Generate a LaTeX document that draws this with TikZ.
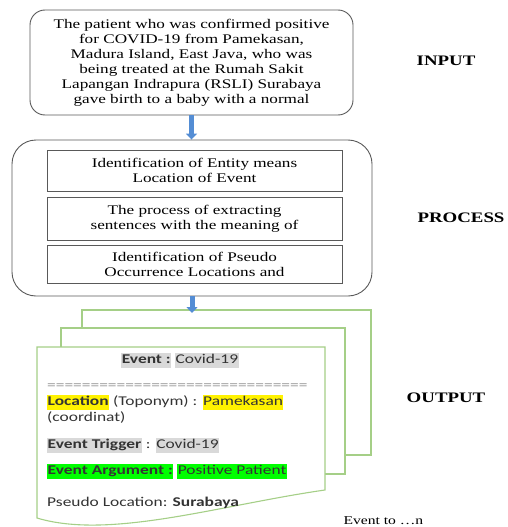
\documentclass[tikz,border=0pt]{standalone}
\usepackage{fontspec}
\setmainfont[FakeStretch=1.3]{Liberation Serif}
\newfontfamily\docfont[FakeStretch=1.3]{Carlito}
\usetikzlibrary{arrows.meta}

\definecolor{pagegreen}{RGB}{165,207,135}
\definecolor{flowblue}{RGB}{84,141,212}
\definecolor{hlgray}{RGB}{217,217,217}
\definecolor{hlgreen}{RGB}{0,255,0}
\newcommand{\hlbox}[2]{{\setlength{\fboxsep}{0.5pt}\colorbox{#1}{\rule[-3.5pt]{0pt}{14pt}#2}}}

\begin{document}
\begin{tikzpicture}[x=1pt,y=-1pt,
		box/.style={draw=black!65,line width=0.9pt,align=center,inner sep=2pt,
			font=\fontsize{13.2}{15}\selectfont},
		page/.style={draw=pagegreen,line width=1.1pt,fill=white},
		flow/.style={draw=flowblue,line width=5pt,-{Triangle[width=11pt,length=6pt]}},
		doctext/.style={inner sep=0pt,text=black!80,font=\docfont\fontsize{13.4}{15}\selectfont},
		stage/.style={font=\fontsize{14.5}{16}\selectfont\bfseries},
		note/.style={font=\fontsize{12}{14}\selectfont}]
	\useasboundingbox (0,0) rectangle (508,527);
	% input
	\node[box,rounded corners=15pt,minimum width=323pt,minimum height=105pt] (input) at (191.5,62.5)
		{The patient who was confirmed positive\\ for COVID-19 from Pamekasan,\\
		 Madura Island, East Java, who was\\ being treated at the Rumah Sakit\\
		 Lapangan Indrapura (RSLI) Surabaya\\ gave birth to a baby with a normal};
	% process
	\node[box,rounded corners=24pt,minimum width=360pt,minimum height=156pt] (process) at (192,218) {};
	\node[box,minimum width=295pt,minimum height=41pt] (ident) at (194.5,170.5)
		{Identification of Entity means\\ Location of Event};
	\node[box,minimum width=295pt,minimum height=43pt] (extract) at (194.5,218.5)
		{The process of extracting\\ sentences with the meaning of};
	\node[box,minimum width=295pt,minimum height=38pt] (pseudo) at (194.5,264)
		{Identification of Pseudo\\ Occurrence Locations and};
	\draw[flow] (input.south) -- (input.south |- process.north);
	% output pages
	\draw[page] (82,310) rectangle (371,455);
	\draw[page] (61,328) rectangle (345,474);
	\draw[page] (37,347) -- (325,347) -- (325,490) .. controls (220,505) and (110,540) .. (37,518) -- cycle;
	\coordinate (stack) at (192,313);
	\draw[flow] (process.south) -- (process.south |- stack);
	\node[doctext] (event) at (180,360) {\hlbox{hlgray}{\bfseries Event :} \hlbox{hlgray}{Covid-19}};
	\node[doctext,anchor=west,text=black!40] (sep) at (47,387) {==============================};
	\node[doctext,anchor=west] (loc) at (47,402)
		{\hlbox{yellow}{\bfseries Location} (Toponym) : \hlbox{yellow}{Pamekasan}};
	\node[doctext,anchor=west] (coord) at (47,418) {\rule[-3.5pt]{0pt}{14pt}(coordinat)};
	\node[doctext,anchor=west] (trigger) at (47,445)
		{\hlbox{hlgray}{\bfseries Event Trigger} : \hlbox{hlgray}{Covid-19}};
	\node[doctext,anchor=west] (argument) at (47,471)
		{\hlbox{hlgreen}{\bfseries Event Argument :} \hlbox{hlgreen}{Positive Patient}};
	\node[doctext,anchor=west] (pseudoloc) at (47,503)
		{\rule[-3.5pt]{0pt}{14pt}Pseudo Location: \textbf{Surabaya}};
	% stage labels
	\node[stage] (inlbl) at (446,61) {INPUT};
	\node[stage] (proclbl) at (461,218) {PROCESS};
	\node[stage] (outlbl) at (446,398) {OUTPUT};
	\node[note,anchor=west] (more) at (340,521) {Event to \ldots n};
\end{tikzpicture}
\end{document}
